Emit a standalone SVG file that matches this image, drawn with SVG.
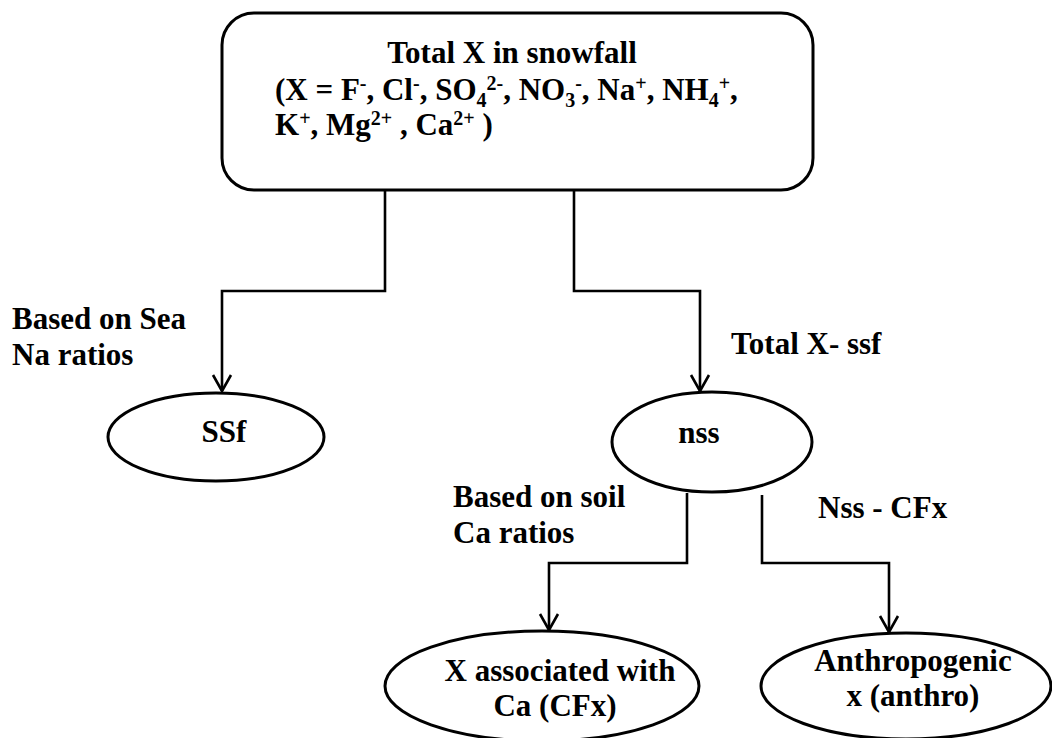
<svg xmlns="http://www.w3.org/2000/svg" width="1052" height="738" viewBox="0 0 1052 738">
  <style>
    .t { font-family: "Liberation Serif", "Times New Roman", serif; font-weight: bold; font-size: 31px; fill: #000; }
    .s { font-size: 20px; }
    .shape { fill: #fff; stroke: #000; stroke-width: 3; }
    .wire { fill: none; stroke: #000; stroke-width: 2.6; }
  </style>
  <defs>
    <marker id="arrow" markerUnits="userSpaceOnUse" viewBox="-12 -18 24 20" markerWidth="24" markerHeight="20" refX="0" refY="0" orient="auto-start-reverse" overflow="visible">
      <path d="M-16,-9 L0,0 L-16,9" fill="none" stroke="#000" stroke-width="2.6"/>
    </marker>
  </defs>
  <rect width="1052" height="738" fill="#fff"/>

  <!-- connectors -->
  <g id="connectors">
    <path class="wire" d="M385,190 V291 H222 V391" marker-end="url(#arrow)"/>
    <path class="wire" d="M574,190 V291 H700 V391" marker-end="url(#arrow)"/>
    <path class="wire" d="M687,493 V563 H549 V630" marker-end="url(#arrow)"/>
    <path class="wire" d="M762,495 V563 H889 V632" marker-end="url(#arrow)"/>
  </g>

  <!-- edge labels -->
  <g id="labels">
    <text class="t" x="12" y="329">Based on Sea</text>
    <text class="t" x="12" y="365">Na ratios</text>
    <text class="t" x="731" y="354">Total X- ssf</text>
    <text class="t" x="453" y="507">Based on soil</text>
    <text class="t" x="453" y="543">Ca ratios</text>
    <text class="t" x="818" y="518">Nss - CFx</text>
  </g>

  <g id="total">
    <rect class="shape" x="222" y="13" width="591" height="177" rx="32" ry="32"/>
    <text class="t" x="512" y="63" text-anchor="middle">Total X in snowfall</text>
    <text class="t" x="275" y="100">(X = F<tspan class="s" dy="-10">-</tspan><tspan dy="10">, Cl</tspan><tspan class="s" dy="-10">-</tspan><tspan dy="10">, SO</tspan><tspan class="s" dy="7">4</tspan><tspan class="s" dy="-17">2-</tspan><tspan dy="10">, NO</tspan><tspan class="s" dy="7">3</tspan><tspan class="s" dy="-17">-</tspan><tspan dy="10">, Na</tspan><tspan class="s" dy="-10">+</tspan><tspan dy="10">, NH</tspan><tspan class="s" dy="7">4</tspan><tspan class="s" dy="-17">+</tspan><tspan dy="10">,</tspan></text>
    <text class="t" x="275" y="135">K<tspan class="s" dy="-10">+</tspan><tspan dy="10">, Mg</tspan><tspan class="s" dy="-10">2+</tspan><tspan dy="10"> , Ca</tspan><tspan class="s" dy="-10">2+</tspan><tspan dy="10"> )</tspan></text>
  </g>

  <g id="ssf">
    <ellipse class="shape" cx="216" cy="437" rx="108" ry="44"/>
    <text class="t" x="224" y="442" text-anchor="middle">SSf</text>
  </g>

  <g id="nss">
    <ellipse class="shape" cx="712" cy="442" rx="100" ry="50"/>
    <text class="t" x="699" y="443" text-anchor="middle">nss</text>
  </g>

  <g id="cfx">
    <ellipse class="shape" cx="542" cy="686" rx="157" ry="55"/>
    <text class="t" x="560" y="681" text-anchor="middle">X associated with</text>
    <text class="t" x="555" y="716" text-anchor="middle">Ca (CFx)</text>
  </g>

  <g id="anthro">
    <ellipse class="shape" cx="906" cy="686" rx="145" ry="53"/>
    <text class="t" x="913" y="671" text-anchor="middle">Anthropogenic</text>
    <text class="t" x="913" y="706" text-anchor="middle">x (anthro)</text>
  </g>
</svg>
